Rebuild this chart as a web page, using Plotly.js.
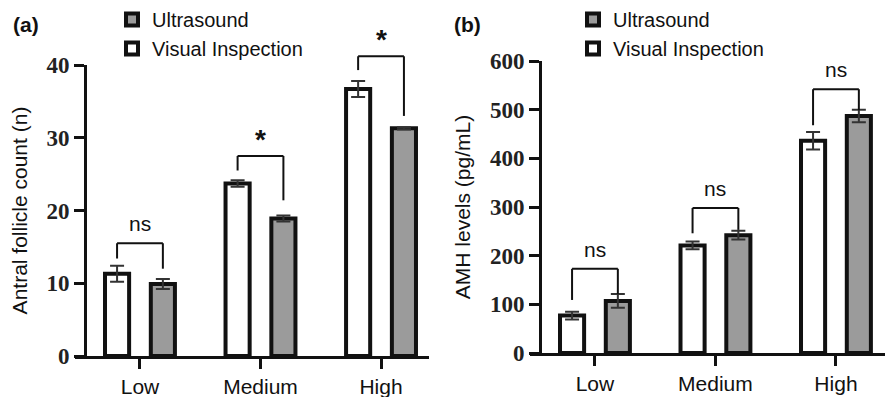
<!DOCTYPE html>
<html><head><meta charset="utf-8">
<script src="https://cdn.plot.ly/plotly-3.0.1.min.js"></script>
<style>html,body{margin:0;padding:0;background:#fff}#chart{width:885px;height:397px}</style>
</head><body><div id="chart"></div>
<script>
// ---------- data ----------
const categories = ['Low', 'Medium', 'High'];
const catPos = [0, 1, 2];

const afcVisual = [11.3, 23.7, 36.7];
const afcVisualErr = [1.1, 0.45, 1.1];
const afcUltrasound = [9.9, 18.9, 31.3];
const afcUltrasoundErr = [0.7, 0.4, 0.15];

const amhVisual = [77, 221, 436];
const amhVisualErr = [8, 8, 18];
const amhUltrasound = [107, 242, 487];
const amhUltrasoundErr = [14, 9, 13];

const afcSigLabels = ['ns', '*', '*'];
const amhSigLabels = ['ns', 'ns', 'ns'];

// significance bracket heights (data units)
const afcBracketTop = [15.5, 27.5, 41.2];
const afcBracketLeft = [13.4, 25.5, 39.3];
const afcBracketRight = [12.0, 21.4, 33.0];
const amhBracketTop = [173, 298, 542];
const amhBracketLeft = [109, 246, 468];
const amhBracketRight = [121, 253, 499];

// ---------- styling ----------
const W = 885, H = 397;
const GRAY = '#9b9b9b', INK = '#111111';
const sans = 'Arial, "Liberation Sans", sans-serif';
const serif = '"Times New Roman", "Liberation Serif", serif';
const barW = 0.2, half = 0.19;

const xRangeA = [-0.539, 2.398], yRangeA = [0, 40];
const xRangeB = [-0.539, 2.407], yRangeB = [0, 600];

function barTrace(name, y, err, fill, xa, ya, leg, side, rank, show) {
  return {
    type: 'bar', name: name, x: catPos, y: y,
    width: barW, offset: side < 0 ? -half - barW / 2 : half - barW / 2,
    xaxis: xa, yaxis: ya, legend: leg, legendrank: rank, showlegend: show,
    marker: {color: fill, line: {color: INK, width: 4}},
    error_y: {type: 'data', array: err, visible: true, color: '#333', thickness: 2, width: 7},
    hoverinfo: 'x+y'
  };
}

const data = [
  barTrace('Visual Inspection', afcVisual, afcVisualErr, '#ffffff', 'x', 'y', 'legend', -1, 2, true),
  barTrace('Ultrasound', afcUltrasound, afcUltrasoundErr, GRAY, 'x', 'y', 'legend', 1, 1, true),
  barTrace('Visual Inspection', amhVisual, amhVisualErr, '#ffffff', 'x2', 'y2', 'legend2', -1, 2, true),
  barTrace('Ultrasound', amhUltrasound, amhUltrasoundErr, GRAY, 'x2', 'y2', 'legend2', 1, 1, true)
];

function frac(v, r) { return (v - r[0]) / (r[1] - r[0]); }

const shapes = [], annotations = [];
function addBrackets(xa, ya, xr, yr, tops, lefts, rights, labels) {
  catPos.forEach((c, i) => {
    const xl = frac(c - half, xr), xrr = frac(c + half, xr);
    const yt = frac(tops[i], yr), yl = frac(lefts[i], yr), yrt = frac(rights[i], yr);
    const base = {type: 'line', xref: xa + ' domain', yref: ya + ' domain', line: {color: INK, width: 2}};
    shapes.push(Object.assign({}, base, {x0: xl, x1: xrr, y0: yt, y1: yt}));
    shapes.push(Object.assign({}, base, {x0: xl, x1: xl, y0: yl, y1: yt}));
    shapes.push(Object.assign({}, base, {x0: xrr, x1: xrr, y0: yrt, y1: yt}));
    const star = labels[i] === '*';
    annotations.push({
      xref: xa + ' domain', yref: ya + ' domain', x: frac(c, xr), y: yt,
      xanchor: 'center', yanchor: 'bottom', showarrow: false,
      text: star ? '<b>*</b>' : labels[i], yshift: star ? -1 : 6,
      font: {family: sans, size: star ? 28 : 21, color: INK}
    });
  });
}
addBrackets('x', 'y', xRangeA, yRangeA, afcBracketTop, afcBracketLeft, afcBracketRight, afcSigLabels);
addBrackets('x2', 'y2', xRangeB, yRangeB, amhBracketTop, amhBracketLeft, amhBracketRight, amhSigLabels);

annotations.push({xref: 'paper', yref: 'paper', x: 11 / W, y: 1 - 25 / H, xanchor: 'left', yanchor: 'middle',
  showarrow: false, text: '<b>(a)</b>', font: {family: sans, size: 21, color: INK}});
annotations.push({xref: 'paper', yref: 'paper', x: 452 / W, y: 1 - 25 / H, xanchor: 'left', yanchor: 'middle',
  showarrow: false, text: '<b>(b)</b>', font: {family: sans, size: 21, color: INK}});

function xAxis(domain, range, anchor) {
  return {
    domain: domain, range: range, anchor: anchor, fixedrange: true,
    tickmode: 'array', tickvals: catPos, ticktext: categories,
    ticks: 'outside', ticklen: 10, tickwidth: 3, tickcolor: INK,
    showline: true, linewidth: 3, linecolor: INK, showgrid: false, zeroline: false,
    tickfont: {family: sans, size: 21, color: INK}
  };
}
function yAxis(domain, range, pos, dtick, title) {
  return {
    domain: domain, range: range, anchor: 'free', position: pos, fixedrange: true,
    tickmode: 'linear', tick0: 0, dtick: dtick,
    ticks: 'outside', ticklen: 10, tickwidth: 3, tickcolor: INK,
    showline: true, linewidth: 3, linecolor: INK, showgrid: false, zeroline: false,
    tickfont: {family: serif, size: 23, color: '#222', weight: 'bold'},
    title: {text: title, font: {family: sans, size: 21, color: INK}, standoff: 12}
  };
}

const layout = {
  width: W, height: H, margin: {l: 0, r: 0, t: 0, b: 0},
  paper_bgcolor: '#fff', plot_bgcolor: 'rgba(0,0,0,0)',
  barmode: 'overlay', showlegend: true,
  xaxis: xAxis([75 / W, 429 / W], xRangeA, 'y'),
  yaxis: yAxis([(H - 356) / H, (H - 65) / H], yRangeA, 85 / W, 10, 'Antral follicle count (n)'),
  xaxis2: xAxis([530 / W, 1], xRangeB, 'y2'),
  yaxis2: yAxis([(H - 353) / H, (H - 61) / H], yRangeB, 540 / W, 100, 'AMH levels (pg/mL)'),
  legend: {x: 112 / W, y: 1, xanchor: 'left', yanchor: 'top', bgcolor: 'rgba(0,0,0,0)',
    font: {family: sans, size: 20, color: INK}, itemwidth: 30, tracegroupgap: 0},
  legend2: {x: 573 / W, y: 1, xanchor: 'left', yanchor: 'top', bgcolor: 'rgba(0,0,0,0)',
    font: {family: sans, size: 20, color: INK}, itemwidth: 30, tracegroupgap: 0},
  shapes: shapes, annotations: annotations
};

Plotly.newPlot('chart', data, layout, {staticPlot: true, displayModeBar: false});
</script></body></html>
